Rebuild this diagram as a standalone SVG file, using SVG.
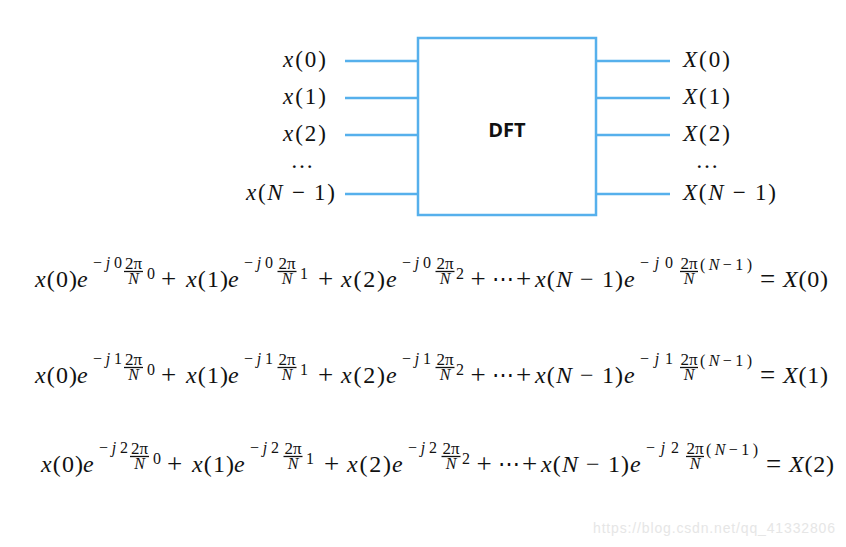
<svg xmlns="http://www.w3.org/2000/svg" width="846" height="547" viewBox="0 0 846 547">
<style>
.wire{stroke:#56B0EC;stroke-width:2.5;fill:none}
.box{stroke:#56B0EC;stroke-width:2.5;fill:#fff}
.lbl{font-family:"Liberation Serif","DejaVu Serif",serif;font-size:23px;fill:#111}
.m{font-family:"Liberation Serif","DejaVu Serif",serif;font-size:24px;fill:#111}
.op{font-family:"Liberation Serif","DejaVu Serif",serif;font-size:27px;fill:#111;text-anchor:middle}
.s{font-family:"Liberation Serif","DejaVu Serif",serif;font-size:16px;fill:#111}
.f{font-family:"Liberation Serif","DejaVu Serif",serif;font-size:17px;fill:#111;text-anchor:middle}
.n{font-family:"Liberation Serif","DejaVu Serif",serif;font-size:16px;font-style:italic;fill:#111;text-anchor:middle}
.i{font-style:italic}
.bar{stroke:#111;stroke-width:1.3}
.ell{font-family:"DejaVu Serif",serif;font-size:22px;fill:#111;text-anchor:middle}
.dft{font-family:"Open Sans","Liberation Sans",sans-serif;font-size:20px;font-weight:bold;fill:#111;text-anchor:middle}
.wm{font-family:"Liberation Sans",Arial,sans-serif;font-size:14px;fill:#e6e6e6}
</style>
<rect width="846" height="547" fill="#fff"/>

<g id="connectors">
<line class="wire" x1="345" y1="61" x2="418" y2="61"/>
<line class="wire" x1="345" y1="98" x2="418" y2="98"/>
<line class="wire" x1="345" y1="135" x2="418" y2="135"/>
<line class="wire" x1="345" y1="194" x2="418" y2="194"/>
<line class="wire" x1="596" y1="61" x2="670" y2="61"/>
<line class="wire" x1="596" y1="98" x2="670" y2="98"/>
<line class="wire" x1="596" y1="135" x2="670" y2="135"/>
<line class="wire" x1="596" y1="194" x2="670" y2="194"/>
</g>

<g id="dft">
<rect class="box" x="418" y="38" width="178" height="177"/>
<text class="dft" x="507" y="137">DFT</text>
</g>

<g id="inputs">
<text class="lbl" x="326" y="67" text-anchor="end" textLength="43"><tspan class="i">x</tspan>(0)</text>
<text class="lbl" x="326" y="104" text-anchor="end" textLength="43"><tspan class="i">x</tspan>(1)</text>
<text class="lbl" x="326" y="141" text-anchor="end" textLength="43"><tspan class="i">x</tspan>(2)</text>
<text class="lbl" x="302" y="168" text-anchor="middle" font-size="15">…</text>
<text class="lbl" x="335" y="200" text-anchor="end" textLength="89"><tspan class="i">x</tspan>(<tspan class="i">N</tspan> − 1)</text>
</g>

<g id="outputs">
<text class="lbl" x="683" y="67" textLength="47"><tspan class="i">X</tspan>(0)</text>
<text class="lbl" x="683" y="104" textLength="47"><tspan class="i">X</tspan>(1)</text>
<text class="lbl" x="683" y="141" textLength="47"><tspan class="i">X</tspan>(2)</text>
<text class="lbl" x="707" y="168" text-anchor="middle" font-size="15">…</text>
<text class="lbl" x="683" y="200" textLength="93"><tspan class="i">X</tspan>(<tspan class="i">N</tspan> − 1)</text>
</g>

<g id="eq0" transform="translate(0,287)">
<text class="m" x="35" textLength="42"><tspan class="i">x</tspan>(0)</text>
<text class="m i" x="77">e</text>
<text class="s" x="93" y="-19" textLength="29">−<tspan class="i">j</tspan>0</text>
<text class="f" x="133.5" y="-18.5">2π</text><line class="bar" x1="124" y1="-15.5" x2="143" y2="-15.5"/><text class="n" x="133.5" y="-3.5">N</text>
<text class="s" x="147" y="-8">0</text>
<text class="op" x="168.5" y="1">+</text>
<text class="m" x="186" textLength="42"><tspan class="i">x</tspan>(1)</text>
<text class="m i" x="228">e</text>
<text class="s" x="244" y="-19" textLength="29">−<tspan class="i">j</tspan>0</text>
<text class="f" x="287" y="-18.5">2π</text><line class="bar" x1="277.5" y1="-15.5" x2="296.5" y2="-15.5"/><text class="n" x="287" y="-3.5">N</text>
<text class="s" x="300" y="-8">1</text>
<text class="op" x="325.5" y="1">+</text>
<text class="m" x="341" textLength="44"><tspan class="i">x</tspan>(2)</text>
<text class="m i" x="386">e</text>
<text class="s" x="402" y="-19" textLength="29">−<tspan class="i">j</tspan>0</text>
<text class="f" x="445" y="-18.5">2π</text><line class="bar" x1="435.5" y1="-15.5" x2="454.5" y2="-15.5"/><text class="n" x="445" y="-3.5">N</text>
<text class="s" x="456" y="-8">2</text>
<text class="op" x="478" y="1">+</text>
<text class="ell" x="502.5" y="-1">⋯</text>
<text class="op" x="523.5" y="1">+</text>
<text class="m" x="535" textLength="88"><tspan class="i">x</tspan>(<tspan class="i">N</tspan> − 1)</text>
<text class="m i" x="624">e</text>
<text class="s" x="640" y="-19" textLength="33">−<tspan class="i">j</tspan>0</text>
<text class="f" x="689" y="-18.5">2π</text><line class="bar" x1="680" y1="-15.5" x2="698" y2="-15.5"/><text class="n" x="689" y="-3.5">N</text>
<text class="s" x="700" y="-17" textLength="52">(<tspan class="i">N</tspan>−1)</text>
<text class="op" x="767.5" y="1">=</text>
<text class="m" x="783" textLength="45"><tspan class="i">X</tspan>(0)</text>
</g>

<g id="eq1" transform="translate(0,383)">
<text class="m" x="35" textLength="42"><tspan class="i">x</tspan>(0)</text>
<text class="m i" x="77">e</text>
<text class="s" x="93" y="-19" textLength="29">−<tspan class="i">j</tspan>1</text>
<text class="f" x="133.5" y="-18.5">2π</text><line class="bar" x1="124" y1="-15.5" x2="143" y2="-15.5"/><text class="n" x="133.5" y="-3.5">N</text>
<text class="s" x="147" y="-8">0</text>
<text class="op" x="168.5" y="1">+</text>
<text class="m" x="186" textLength="42"><tspan class="i">x</tspan>(1)</text>
<text class="m i" x="228">e</text>
<text class="s" x="244" y="-19" textLength="29">−<tspan class="i">j</tspan>1</text>
<text class="f" x="287" y="-18.5">2π</text><line class="bar" x1="277.5" y1="-15.5" x2="296.5" y2="-15.5"/><text class="n" x="287" y="-3.5">N</text>
<text class="s" x="300" y="-8">1</text>
<text class="op" x="325.5" y="1">+</text>
<text class="m" x="341" textLength="44"><tspan class="i">x</tspan>(2)</text>
<text class="m i" x="386">e</text>
<text class="s" x="402" y="-19" textLength="29">−<tspan class="i">j</tspan>1</text>
<text class="f" x="445" y="-18.5">2π</text><line class="bar" x1="435.5" y1="-15.5" x2="454.5" y2="-15.5"/><text class="n" x="445" y="-3.5">N</text>
<text class="s" x="456" y="-8">2</text>
<text class="op" x="478" y="1">+</text>
<text class="ell" x="502.5" y="-1">⋯</text>
<text class="op" x="523.5" y="1">+</text>
<text class="m" x="535" textLength="88"><tspan class="i">x</tspan>(<tspan class="i">N</tspan> − 1)</text>
<text class="m i" x="624">e</text>
<text class="s" x="640" y="-19" textLength="33">−<tspan class="i">j</tspan>1</text>
<text class="f" x="689" y="-18.5">2π</text><line class="bar" x1="680" y1="-15.5" x2="698" y2="-15.5"/><text class="n" x="689" y="-3.5">N</text>
<text class="s" x="700" y="-17" textLength="52">(<tspan class="i">N</tspan>−1)</text>
<text class="op" x="767.5" y="1">=</text>
<text class="m" x="783" textLength="45"><tspan class="i">X</tspan>(1)</text>
</g>

<g id="eq2" transform="translate(6,472)">
<text class="m" x="35" textLength="42"><tspan class="i">x</tspan>(0)</text>
<text class="m i" x="77">e</text>
<text class="s" x="93" y="-19" textLength="29">−<tspan class="i">j</tspan>2</text>
<text class="f" x="133.5" y="-18.5">2π</text><line class="bar" x1="124" y1="-15.5" x2="143" y2="-15.5"/><text class="n" x="133.5" y="-3.5">N</text>
<text class="s" x="147" y="-8">0</text>
<text class="op" x="168.5" y="1">+</text>
<text class="m" x="186" textLength="42"><tspan class="i">x</tspan>(1)</text>
<text class="m i" x="228">e</text>
<text class="s" x="244" y="-19" textLength="29">−<tspan class="i">j</tspan>2</text>
<text class="f" x="287" y="-18.5">2π</text><line class="bar" x1="277.5" y1="-15.5" x2="296.5" y2="-15.5"/><text class="n" x="287" y="-3.5">N</text>
<text class="s" x="300" y="-8">1</text>
<text class="op" x="325.5" y="1">+</text>
<text class="m" x="341" textLength="44"><tspan class="i">x</tspan>(2)</text>
<text class="m i" x="386">e</text>
<text class="s" x="402" y="-19" textLength="29">−<tspan class="i">j</tspan>2</text>
<text class="f" x="445" y="-18.5">2π</text><line class="bar" x1="435.5" y1="-15.5" x2="454.5" y2="-15.5"/><text class="n" x="445" y="-3.5">N</text>
<text class="s" x="456" y="-8">2</text>
<text class="op" x="478" y="1">+</text>
<text class="ell" x="502.5" y="-1">⋯</text>
<text class="op" x="523.5" y="1">+</text>
<text class="m" x="535" textLength="88"><tspan class="i">x</tspan>(<tspan class="i">N</tspan> − 1)</text>
<text class="m i" x="624">e</text>
<text class="s" x="640" y="-19" textLength="33">−<tspan class="i">j</tspan>2</text>
<text class="f" x="689" y="-18.5">2π</text><line class="bar" x1="680" y1="-15.5" x2="698" y2="-15.5"/><text class="n" x="689" y="-3.5">N</text>
<text class="s" x="700" y="-17" textLength="52">(<tspan class="i">N</tspan>−1)</text>
<text class="op" x="767.5" y="1">=</text>
<text class="m" x="783" textLength="45"><tspan class="i">X</tspan>(2)</text>
</g>

<text class="wm" x="593" y="533" textLength="242">https://blog.csdn.net/qq_41332806</text>
</svg>
